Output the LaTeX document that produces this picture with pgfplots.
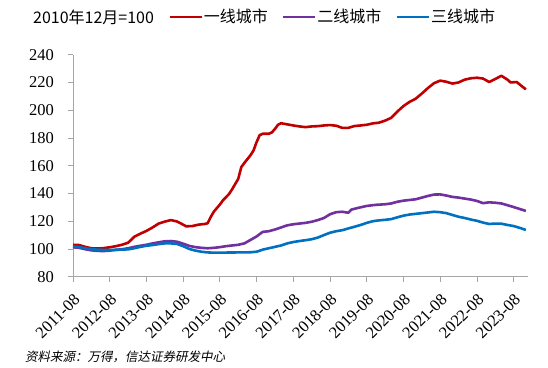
\documentclass[border=0pt]{standalone}
\usepackage{fontspec}
\setmainfont{Liberation Serif}
\newfontfamily\tnr{Liberation Serif}
\newfontfamily\cjk{Noto Sans CJK SC}
\newfontfamily\cjkit{Noto Sans CJK SC}[FakeSlant=0.2]
\usepackage{pgfplots}
\usepackage{pgfplotstable}
\pgfplotsset{compat=1.18}
\definecolor{cred}{RGB}{192,0,0}
\definecolor{cpurple}{RGB}{112,48,160}
\definecolor{cblue}{RGB}{0,112,192}
\definecolor{axgray}{RGB}{166,166,166}

\pgfplotstableread{
m v
0 103
2 102.8
4 101.5
6 100.5
8 100.3
10 100.6
12 101.2
14 102
16 103
18 104.5
19 106.5
20 108.8
22 111
24 113
26 115.5
28 118.3
30 119.7
32 120.8
34 119.8
36 117.5
37 116.3
39 116.5
41 117.5
43 118
44 118.5
45 123
46 126.8
48 132
49 135
51 139.6
52 143
54 150.5
55 159
56 162
58 167.5
59 171
60 177
61 182
62 183
64 183
65 184
66 186.5
67 189.5
68 190.6
70 189.8
72 189
74 188.3
76 187.8
78 188.3
80 188.5
82 189
84 189.3
86 188.8
88 187.3
90 187.3
92 188.6
94 189
96 189.5
98 190.5
100 191
102 192.5
104 194.5
106 199
108 203
110 206
112 208.3
114 212
116 216
118 219.5
120 221.3
122 220.5
124 219.2
126 220
128 222
130 223
132 223.4
134 222.8
136 220.3
138 222.5
140 224.8
142 222
143 220
145 220.3
146 218.5
148 215
}\tierone

\pgfplotstableread{
m v
0 101.2
2 100.8
4 99.8
6 99
8 98.6
10 98.5
12 98.8
14 99.3
16 99.8
18 100.5
20 101.5
22 102.3
24 103
26 104
28 104.8
30 105.5
32 105.7
34 105.2
36 103.8
38 102.2
40 101.3
42 100.8
44 100.5
46 100.8
48 101.3
50 102
52 102.5
54 103
56 104
58 106.5
60 109
62 112.3
64 112.8
66 114
68 115.5
70 117
72 117.8
74 118.3
76 118.8
78 119.6
80 120.8
82 122.3
84 125
86 126.5
88 126.8
90 126.1
91 128.4
93 129.5
96 131
99 131.8
102 132.2
104 132.8
106 134
108 134.8
110 135.3
112 135.8
114 137
116 138.2
118 139.2
120 139.3
122 138.5
124 137.5
126 137
128 136.3
130 135.6
132 134.6
134 133
136 133.6
138 133.3
140 132.8
142 131.5
144 130.2
146 128.8
148 127.4
}\tiertwo

\pgfplotstableread{
m v
0 101.8
2 101.3
4 100.5
6 99.8
8 99.5
10 99.3
12 99.3
14 99.4
16 99.5
18 99.7
20 100.5
22 101.5
24 102.3
26 102.8
28 103.5
30 104
32 104
34 103.6
36 102
38 100
40 98.8
42 98
44 97.5
46 97.3
50 97.4
54 97.5
58 97.6
60 98
62 99.5
64 100.5
66 101.5
68 102.5
70 104
72 105
74 105.7
76 106.3
78 107
80 108.2
82 110
84 111.7
86 112.8
88 113.5
90 114.8
92 116
94 117.3
96 118.8
98 120
100 120.6
102 121
104 121.5
106 122.8
108 124
110 124.8
112 125.3
114 125.8
116 126.3
118 126.8
120 126.5
122 125.8
124 124.5
126 123.2
128 122.3
130 121.2
132 120.3
134 119
136 118
138 118.3
140 118.2
142 117.3
144 116.5
146 115.2
148 113.7
}\tierthree

\begin{document}
\begin{tikzpicture}
\useasboundingbox (0,0) rectangle (548pt,367pt);
\begin{axis}[
  at={(73pt,90.3pt)}, anchor=south west,
  scale only axis, width=454.7pt, height=222pt,
  xmin=0, xmax=148.6, ymin=80, ymax=240,
  axis x line*=bottom, axis y line*=left,
  axis line style={axgray, line width=0.8pt},
  tick style={axgray, line width=0.8pt},
  tick align=outside, major tick length=5pt,
  xtick={0,12,...,144},
  xticklabels={2011-08,2012-08,2013-08,2014-08,2015-08,2016-08,2017-08,2018-08,2019-08,2020-08,2021-08,2022-08,2023-08},
  ytick={80,100,...,240},
  /pgf/number format/assume math mode=true,
  tick label style={font=\tnr\fontsize{16.5}{16.5}\selectfont, black},
  yticklabel style={inner sep=0pt, xshift=-14pt},
  xticklabel style={inner sep=0pt, xshift=4pt, yshift=-15pt, rotate=45, anchor=east},
  clip=false,
  legend columns=3,
  legend style={at={(0.209,1.17)}, anchor=west, draw=none, fill=none, inner sep=0pt,
    font=\cjk\fontsize{16}{16}\selectfont,
    nodes={inner xsep=1pt, inner ysep=0pt},
    /tikz/every even column/.append style={column sep=13pt}},
  legend image code/.code={\draw[#1] (0pt,0pt) -- (32pt,0pt);},
]
\addplot[cred, line width=2.6pt, line join=round] table[x=m, y=v] {\tierone};
\addlegendentry{一线城市}
\addplot[cpurple, line width=2.6pt, line join=round] table[x=m, y=v] {\tiertwo};
\addlegendentry{二线城市}
\addplot[cblue, line width=2.6pt, line join=round] table[x=m, y=v] {\tierthree};
\addlegendentry{三线城市}
\end{axis}
\node[anchor=west, inner sep=0pt] at (33pt,350pt) {\cjk\fontsize{16}{16}\selectfont 2010年12月=100};
\node[anchor=west, inner sep=0pt] at (25pt,10pt) {\cjkit\fontsize{12.5}{12.5}\selectfont 资料来源：万得，信达证券研发中心};
\end{tikzpicture}
\end{document}
